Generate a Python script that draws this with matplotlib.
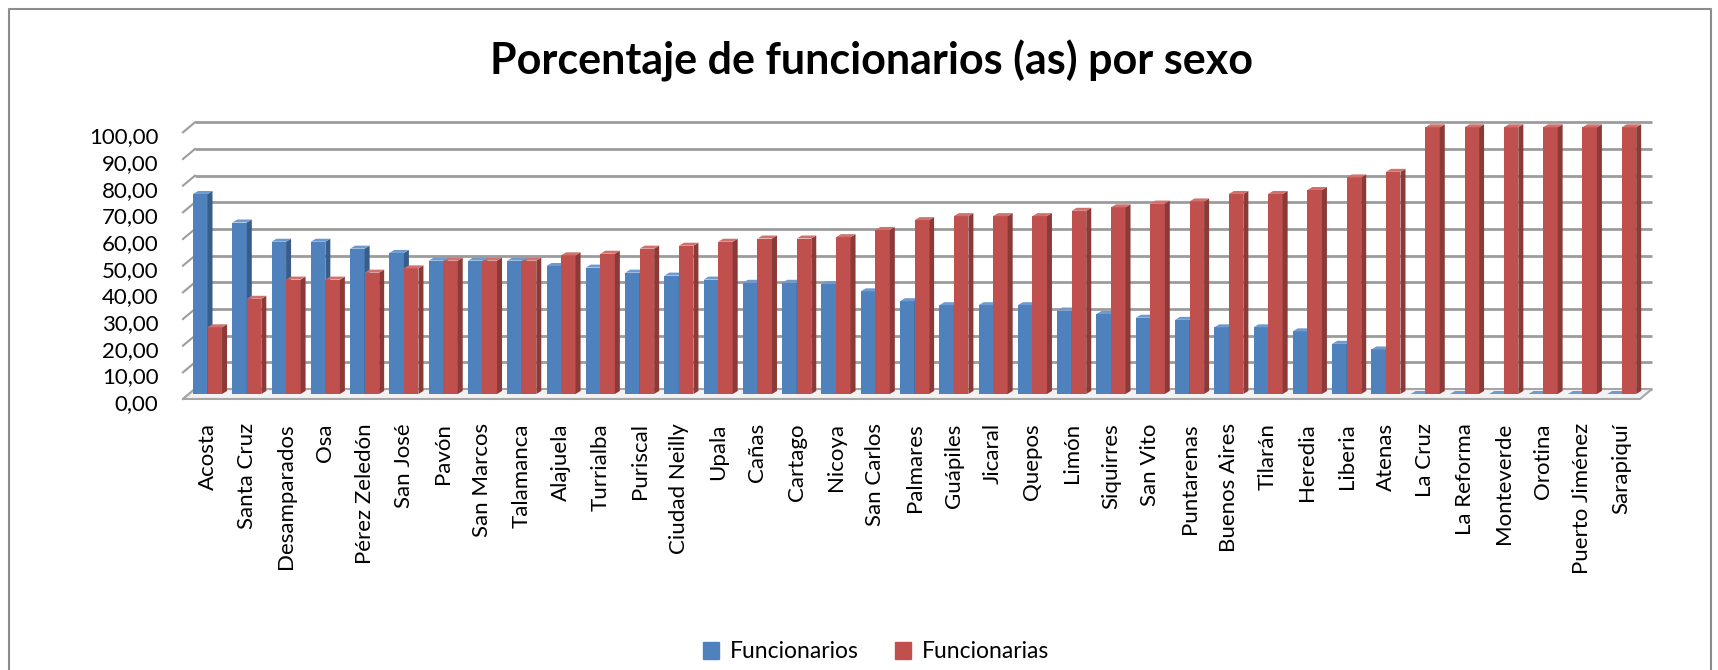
"""Porcentaje de funcionarios (as) por sexo - columnas con efecto 3D."""

import matplotlib
matplotlib.use("Agg")
import matplotlib.pyplot as plt
import numpy as np
from matplotlib.lines import Line2D
from matplotlib.patches import Patch, Polygon
from matplotlib.transforms import IdentityTransform, ScaledTranslation

# --------------------------------------------------------------------------- #
# Datos
# --------------------------------------------------------------------------- #
municipios = [
  "Acosta", "Santa Cruz", "Desamparados", "Osa", "Pérez Zeledón", "San José",
  "Pavón", "San Marcos", "Talamanca", "Alajuela", "Turrialba", "Puriscal",
  "Ciudad Neilly", "Upala", "Cañas", "Cartago", "Nicoya", "San Carlos",
  "Palmares", "Guápiles", "Jicaral", "Quepos", "Limón", "Siquirres",
  "San Vito", "Puntarenas", "Buenos Aires", "Tilarán", "Heredia", "Liberia",
  "Atenas", "La Cruz", "La Reforma", "Monteverde", "Orotina",
  "Puerto Jiménez", "Sarapiquí",
]
funcionarios = [
  75.0, 64.3, 57.1, 57.1, 54.5, 52.9, 50.0, 50.0, 50.0, 48.0, 47.4, 45.5,
  44.4, 42.9, 41.7, 41.7, 41.2, 38.5, 34.8, 33.3, 33.3, 33.3, 31.3, 30.0,
  28.6, 27.8, 25.0, 25.0, 23.5, 18.8, 16.7, 0.0, 0.0, 0.0, 0.0, 0.0, 0.0,
]
funcionarias = [
  25.0, 35.7, 42.9, 42.9, 45.5, 47.1, 50.0, 50.0, 50.0, 52.0, 52.6, 54.5,
  55.6, 57.1, 58.3, 58.3, 58.8, 61.5, 65.2, 66.7, 66.7, 66.7, 68.7, 70.0,
  71.4, 72.2, 75.0, 75.0, 76.5, 81.2, 83.3, 100.0, 100.0, 100.0, 100.0,
  100.0, 100.0,
]
series_labels = ["Funcionarios", "Funcionarias"]
y_ticks = list(range(0, 101, 10))

# --------------------------------------------------------------------------- #
# Estilo
# --------------------------------------------------------------------------- #
W, H, DPI = 1718, 670, 100
BLUE, BLUE_SIDE, BLUE_TOP = "#4F81BD", "#385D8A", "#6F9AD0"
RED, RED_SIDE, RED_TOP = "#C0504D", "#8C3A37", "#D0716E"
GRID = "#9C9C9C"
BAR_W = 0.37
DEPTH = (5, 3)        # bar side face, in pixels (right, up)
WALL = (6, 5)         # back wall offset from the bar plane, in pixels

plt.rcParams["font.family"] = ["Lato", "DejaVu Sans"]

fig = plt.figure(figsize=(W / DPI, H / DPI), dpi=DPI)
ax = fig.add_axes([189 / W, 1 - 394 / H, 1457 / W, 266.7 / H])

x = np.arange(len(municipios))
ax.set_xlim(-0.471, 36.62)
ax.set_ylim(0, 100)


def px_offset(dx, dy):
  return ScaledTranslation(dx / DPI, dy / DPI, fig.dpi_scale_trans)


# back wall gridlines
back = ax.get_yaxis_transform() + px_offset(*WALL)
for v in y_ticks:
  ax.plot([0, 1], [v, v], color=GRID, lw=2.0, transform=back,
          zorder=1, clip_on=False, solid_capstyle="butt")

# left wall depth marks and floor, in display pixels
to_px = ax.transAxes.transform
for v in y_ticks:
  fx, fy = to_px((0, v / 100))
  ax.add_artist(Line2D([fx - WALL[0], fx + WALL[0]], [fy - WALL[1], fy + WALL[1]],
                       color=GRID, lw=1.5, transform=IdentityTransform(),
                       zorder=1, clip_on=False))

(lx, by), (rx, _) = to_px((0, 0)), to_px((1, 0))
floor = [(lx - WALL[0], by - WALL[1]), (rx - WALL[0], by - WALL[1]),
         (rx + WALL[0], by + WALL[1]), (lx + WALL[0], by + WALL[1])]
ax.add_patch(Polygon(floor, closed=True, facecolor="#F2F2F2", edgecolor="#A6A6A6",
                     lw=1.5, transform=IdentityTransform(), zorder=2, clip_on=False))

# columns
blue_bars = ax.bar(x - BAR_W / 2, funcionarios, BAR_W, color=BLUE, zorder=3,
                   label=series_labels[0])
red_bars = ax.bar(x + BAR_W / 2, funcionarias, BAR_W, color=RED, zorder=5,
                  label=series_labels[1])


def add_depth(bars, side_color, top_color, z):
  dx, dy = DEPTH
  for r in bars:
    (x0, y0), (x1, y1) = ax.transData.transform(
      [(r.get_x(), 0), (r.get_x() + r.get_width(), r.get_height())])
    side = [(x1, y0), (x1, y1), (x1 + dx, y1 + dy), (x1 + dx, y0 + dy)]
    top = [(x0, y1), (x1, y1), (x1 + dx, y1 + dy), (x0 + dx, y1 + dy)]
    for poly, col in ((side, side_color), (top, top_color)):
      ax.add_patch(Polygon(poly, closed=True, facecolor=col, edgecolor="none",
                           transform=IdentityTransform(), zorder=z,
                           clip_on=False))


add_depth(blue_bars, BLUE_SIDE, BLUE_TOP, 4)
add_depth(red_bars, RED_SIDE, RED_TOP, 6)

# axes and labels
for s in ax.spines.values():
  s.set_visible(False)
ax.set_yticks(y_ticks, [f"{v:.2f}".replace(".", ",") for v in y_ticks])
ax.set_xticks(x, municipios, rotation=90)
ax.tick_params(axis="y", length=0, pad=22, labelsize=16)
ax.tick_params(axis="x", length=0, pad=21, labelsize=16)
for lab in ax.get_yticklabels():
  lab.set_transform(lab.get_transform() + px_offset(0, -8))

fig.text(871 / W, 1 - 74 / H, "Porcentaje de funcionarios (as) por sexo",
         ha="center", va="baseline", fontsize=31, fontweight="bold")

fig.legend(handles=[Patch(color=BLUE), Patch(color=RED)], labels=series_labels,
           loc="center", bbox_to_anchor=(876 / W, 1 - 652 / H), ncol=2,
           frameon=False, fontsize=16.5, handlelength=0.7, handleheight=0.7,
           handletextpad=0.45, columnspacing=1.6)

# chart area border
fig.add_artist(Line2D([9 / W, 9 / W, 1711 / W, 1711 / W], [0, 1 - 9 / H, 1 - 9 / H, 0],
                      color="#8C8C8C", lw=1.5, transform=fig.transFigure))

fig.savefig("out.png", dpi=DPI)
